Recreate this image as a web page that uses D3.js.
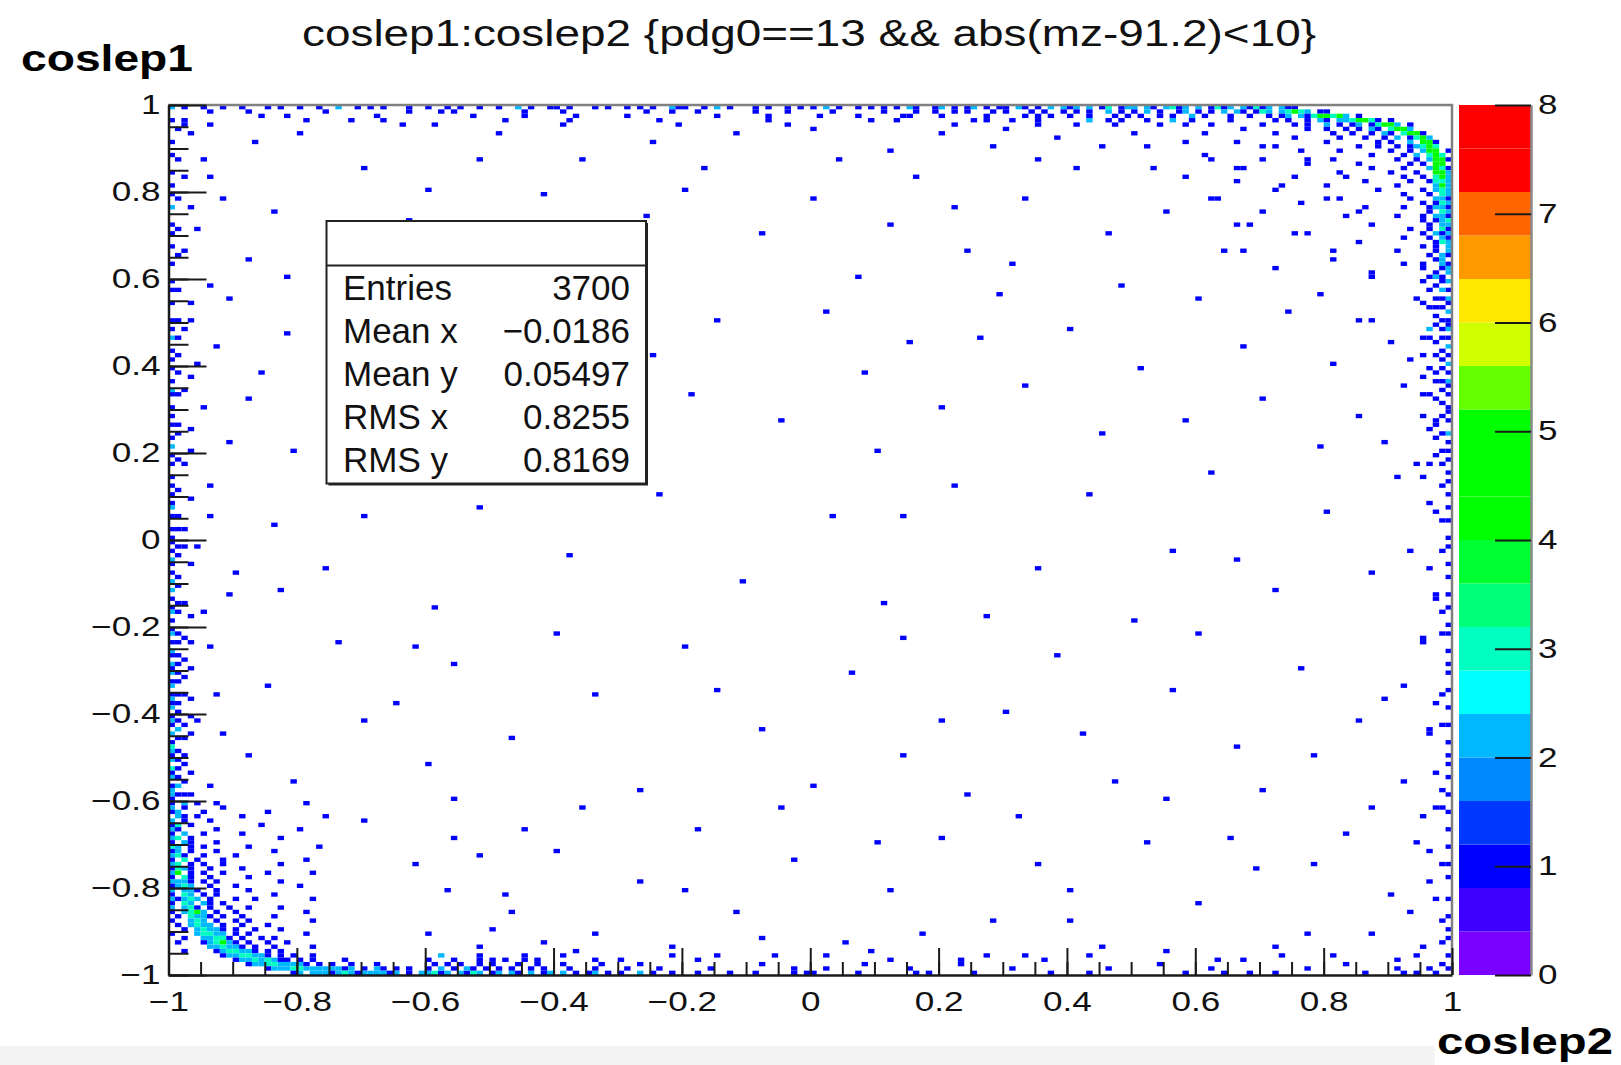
<!DOCTYPE html>
<html>
<head>
<meta charset="utf-8">
<script src="https://cdn.jsdelivr.net/npm/d3@7"></script>
<style>
  html, body { margin: 0; padding: 0; background: #fff; }
  svg { display: block; }
</style>
</head>
<body>
<svg id="chart" width="1621" height="1065"></svg>
<script>
// ---------- labels ----------
const titleText = "coslep1:coslep2 {pdg0==13 && abs(mz-91.2)<10}";
const yTitle = "coslep1";
const xTitle = "coslep2";
const axisTickValues = [-1, -0.8, -0.6, -0.4, -0.2, 0, 0.2, 0.4, 0.6, 0.8, 1];
const axisTickLabels = ["\u22121", "\u22120.8", "\u22120.6", "\u22120.4", "\u22120.2", "0", "0.2", "0.4", "0.6", "0.8", "1"];
const zTickValues = [0, 1, 2, 3, 4, 5, 6, 7, 8];
const zTickLabels = ["0", "1", "2", "3", "4", "5", "6", "7", "8"];
const statNames = ["Entries", "Mean x", "Mean y", "RMS x", "RMS y"];
const statValues = ["3700", "\u22120.0186", "0.05497", "0.8255", "0.8169"];

// colz palette, 20 contour levels from 0 to 8
const palette = ["#7a00ff", "#3d00ff", "#0000ff", "#0038ff", "#0088ff", "#00b8ff", "#00ffff", "#00ffc0",
                 "#00ff78", "#00ff30", "#00ff00", "#00ff00", "#00ff00", "#66ff00", "#d0ff00", "#ffe800",
                 "#ff9a00", "#ff6600", "#ff0000", "#ff0000"];

// ---------- histogram contents (200 x 200 bins on [-1,1] x [-1,1]) ----------
// '.' = empty bin, digit = bin content; spaces are only for readability.

// top-right corner: x 0.60 -> 1.00 (left to right), y 1.00 -> 0.60 (top to bottom)
const cornerTopRight = [
  "2.131 2.213 12.21 1....",
  "1.1.2 .21.1 32.23 432.1 1....",
  ".1... 1..1. .1.12 .2134 5342. 1....",
  "..... 1.... ..1.1 ..1.2 1.223 4531. 1",
  "..1.. ..... 1.... 1.1.. 2.1.1 2.134 52.1.",
  "..... ..1.. ..... ..1.. 1..1. 1.21. 3542.",
  ".1... ..... ..1.. ..... .1..1 ..1.2 1.354 1",
  "..... ..... ..... 1.... ..1.. .1..1 .2.13 52",
  "..... .1... ..... ..... 1.... ...1. 1..2. 441",
  "..... ..... ..1.. ..... ..... 1..1. .1.12 353",
  "..... ..... ..... .1... ..1.. ..... 1..1. 245.1",
  ".1... ..... ..... ..... ..... ..1.. ..1.2 .353.",
  "..... ..... 1.... ..... .1... ..... .1..1 .2541",
  "..... ..... ..... ..1.. ..... 1.... ...1. 1.44.",
  "..... ..1.. ..... ..... ..... ..1.. ..1.. .2531",
  "..... ..... ..... ..... ..1.. ..... 1...1 ..452",
  "..... ..... ..... 1.... ..... ..... ..1.. 1.342",
  "..... .1... ..... ..... ..... .1... ...1. .1332",
  "..... ..... ..... ..... 1.... ..... .1... ..242",
  "..... ..... ..1.. ..... ..... ...1. ..... 1.232",
  "..... ..... ..... ..... ..... ..... ..1.. .1.32",
  "..1.. ..... ..... ..... ..1.. ..... ...1. ..221",
  "..... ..... ..... .1... ..... ..... ..... 1.132",
  "..... ..... ..... ..... ..... .1... ..1.. .1221",
  "..... ..... 1.... ..... ..... ..... ..... .1.32",
  "..... ..... ..... ..... ...1. ..... .1... 1.221",
  "..... ..... ..... ..... ..... ..... ..... 1.123",
  "..... .1... ..... ..... ..... ..1.. ..... .1.22",
  "..... ..... ..... ..... ..... ..... ...1. .1.31",
  "..... ..... ..... ..1.. ..... ..... ..... 1.212",
  "..... ..... ..... ..... ..... ..... ..1.. .1.21",
  "..... ..... ..... ..... ..... 1.... ..... ..132",
  "..... ..... ..... ..... ..... ..... ..... 1.1.2",
  "..... ..1.. ..... ..... ..... ..... .1... ..1.2",
  "..... ..... ..... ..... ..... ..... ..... .1.21",
  "..... ..... ..... ..... .1... ..... ..... ..12.",
  "..... ..... ..... ..... ..... ..... ..1.. 1..21",
  "..... ..... ..... ..... ..... ..... ..... 1..12",
  "..... ..... ..... ..... ..... ..1.. ..... ..1.2",
  "..... ..... ..... ..... ..... ..... ..... .121."
];

// bottom-left corner: x -1.00 -> -0.60 (left to right), y -0.60 -> -1.00 (top to bottom)
const cornerBottomLeft = [
  "1.2.1 ..1.. ..... ..... .1...",
  "2.1.. ...1. ..... ..... .....",
  "12... 1.... ..... 1.... .....",
  ".21.1 ..... .1... ..... ....1",
  "2.1.. .1... ..... ..... .....",
  "13.1. ..... ....1 ..... .....",
  "21... ..1.. ..... ..... 1....",
  "1.2.. 1.... .1... ..... .....",
  "23.1. ..... ..... ..1.. .....",
  "1.21. ..1.. ..... ..... .....",
  "32.1. 1.... ..1.. ..... ...1.",
  "12.1. ..1.. ..... .1... .....",
  "231.. 1.... 1.... ..... .....",
  "1.3.1 ...1. ..... ..... .1...",
  "23.1. 1..1. ..... ..1.. .....",
  "1321. .1... .1... ..... .....",
  "24.1. 1..1. ..... 1.... ..1..",
  "1.31. .1... ..1.. ..... .....",
  "2221. 1.1.. ..... ..1.. .....",
  "1232. .1... 1.... ..... 1....",
  "2.221 ..1.. ..1.. ..... .....",
  "1.32. 1.1.. ..... .1... .....",
  "21232 .1... 1..1. ..... ..1..",
  "1.32. 21.1. ..... ..... .....",
  "2.231 .1..1 ..1.. ..1.. .....",
  "1.234 2.1.. 1.... ..... .1...",
  ".1.32 21.1. .1... .1... .....",
  "1..23 2.1.. 1.1.. ..... ..1..",
  ".1.23 22.1. .1... 1.... .....",
  "..1.2 3221. 1..1. ..1.. .....",
  "1...2 3322. 1.1.. ..... .1...",
  "..1.. 22331 .1..1 .1... .....",
  ".1... 12342 1.1.. 1..1. .....",
  "..... .2232 21.1. .1... ..1..",
  "..1.. ..123 3221. 1.1.. .....",
  "..... ...12 23322 1.1.1 ..1.. .....",
  "..... ..... 12232 3211. 1.1.. ..1..",
  "..... ..... ..122 33222 21.1. 1..1. ..1..",
  "..... ..... ..... 12223 32222 2212. 1.21. 1.1..",
  "..... ..... ..... ....1 2.222 12321 22221 2.1.2"
];

// left edge columns (x = -1.00, -0.99, -0.98, -0.97), y 1.00 -> -0.60
const leftEdge = [
  "1..1....1. .1...1..1. 1..2...1.1 ..1...1... 1.1..1...1 .1.2..1.1. 1..1.21..1 .1.1..1.2. 1.1..1.1.1 .12.1..1.1 1.1.21.1.2 .2.1.12.1. 12.1.21.21 2.12.1212. 121.2.1321 2.312.1221",
  ".....1.... ..1....... .1......1. ....1..... ..1......1 ...1...1.. .1....1... ...1.1.... .1......1. ....1..1.. .1.1....1. 1...1.1... .1.1..1.1. 1.1..1.1.1 .1.2.1..1. 1.1.1.2.1.",
  "...1...... ......1... .......... ...1...... .......... .1........ .....1.... .......... ..1....... .......1.. .1........ ....1..... ..1....1.. .1...1.... ..1..1...1 .1...1..1.",
  "......1... .......... ...1...... .......... .....1.... .......... ..1....... ....1..... .......... 1......... .....1.... .......1.. ...1...... ......1... 1...1..... ...1....1."
];

// top edge rows (y = 0.99, 0.98, ...), x -1.00 -> 0.60
const topEdge = [
  "1.1..1..1. .1...1.1.. 1..1..2..1 .1.1...1.. 1..1.1..1. .1..2.1..1 1.1...1.1. .1.1.1..21 1..1.2.1.. .1.1..1.1. 1.2.1..1.1 .1.1.21..1 2.1.12.1.1 1.21.1.2.2 12.2.13.12 2.21.2312.",
  "......1... ..1....... ....1..... .......1.. ..1....... .....1.... .1........ ....1...1. ..1....... .1....1... ...1...... .1....1..1 ..1.1...1. 1...1.1..1 .1.1..2.1. 1.2.1..12.",
  ".......... ....1..... .......... ..1....... .......1.. .......... ...1...... .......... .....1.... .......... .1.....1.. .....1.... 1......1.. ...1...1.. 1..1...1.1 .1..1.1..2",
  ".......... .......... .1........ .......... .......... ..1....... .......... ......1... .......... ...1...... .......... ...1...... .......1.. .1...1.... ...1..1... ..1...1..1",
  "..1....... .......... .......... ......1... .......... .......... .1........ .......... .......... ......1... .......... .......... ..1....... .....1.... .1.....1.. ....1...1."
];

// right edge columns (x = 0.99, 0.98, ...), y 0.60 -> -1.00
const rightEdge = [
  "2.1.21.2.1 12.1.2.1.2 .1.21.1..1 1.1..2.1.1 .1..1.1..1 ..1..1...1 .1...1..1. ..1..1...1 .1...1..1. 1...1...1. ..1...1..1 .1..1...1. ..1...1... 1...1..1.. ..1...1..1 .1...1..1.",
  "1.2.1.1..1 .1.1..1.1. 1..1.1..1. .1...1...1 ..1....1.. .....1.... ..1....... ......1... .1........ .....1.... ..1....... .......1.. .1........ ....1..... .......1.. ..1.......",
  ".1..1.1.1. 1...1..1.. .1.1...1.. ..1...1... 1......... ...1...... .......... ..1....... .......... .......1.. .......... ...1...... .......... .......... ..1....... ..........",
  "..1...1... .1.1...... 1.....1... ....1..... ..1....... .......... ......1... .......... .......... .......... ...1...... .......... .......... .1........ .......... ..........",
  "1....1.... ...1...1.. ..1....... .1........ .....1.... .......... .......... .......... ..1....... .......... .......... .......... ...1...... .......... .......... .........."
];

// bottom edge rows (y = -1.00, -0.99, ...), x -0.60 -> 1.00
const bottomEdge = [
  "2312.2132. 12.21.2.12 .2.1.12.1. 1..2.1..1. ..1....1.. .1.....1.1 1......1.. ......1.1. .....1.... .......1.. ...1...... ........1. ....1...1. ..1....... ......1... ..1.1..1..",
  "1.2.1.21.1 .1.1..1.1. ..1...1... .1....1... ....1..... .......1.. ..1....... .....1.... .......... .1........ ......1... .......... ..1....... .......1.. .......... .1....1...",
  ".1.1.1..1. 1...1..1.. .1.....1.. ...1...... .......... ..1....... ........1. .......... ...1...... .......... .......... ....1..... .......... .......... ...1...... ........1.",
  "1...1...1. ..1....1.. ......1... .......... ..1....... .......... .......... ..1....... .......... ......1... .......... .......... .......1.. .......... .......... .1........",
  "..1.....1. .....1.... .1........ ........1. .......... ....1..... .......... .......... .......1.. .......... ...1...... .......... .......... ...1...... .......... ....1....."
];

// isolated entries inside the plane: [coslep2, coslep1]
const scatterPoints = [
  // upper region
  [-0.93,0.95],[-0.87,0.91],[-0.79,0.93],[-0.66,0.96],[-0.59,0.95],[-0.45,0.97],[-0.36,0.88],[-0.21,0.95],
  [-0.12,0.93],[0.09,0.96],[0.35,0.97],[0.48,0.96],[-0.93,0.83],[-0.84,0.75],[-0.74,0.68],[-0.63,0.73],
  [-0.52,0.87],[-0.42,0.79],[-0.17,0.86],[0.04,0.88],[0.17,0.83],[0.28,0.9],[0.33,0.78],[0.41,0.85],
  [0.52,0.9],[0.58,0.83],[-0.26,0.74],[-0.08,0.7],[0.12,0.72],[0.24,0.66],[0.46,0.7],[0.55,0.75],
  [-0.55,0.62],[-0.3,0.62],[0.07,0.61],[0.31,0.63],
  [-0.82,0.97],[-0.72,0.96],[-0.55,0.98],[-0.49,0.93],[-0.38,0.96],[-0.29,0.97],[-0.25,0.91],[-0.06,0.97],
  [0.0,0.94],[0.14,0.97],[0.2,0.93],[0.25,0.96],[0.3,0.94],[0.38,0.92],[0.43,0.96],[0.45,0.9],
  [0.5,0.93],[0.56,0.96],[0.59,0.91],[0.53,0.86],[0.36,0.87],[0.12,0.89],
  [-0.7,0.85],[-0.6,0.8],[-0.48,0.72],[-0.2,0.8],[0.0,0.78],[0.22,0.76],
  // top-right halo
  [0.62,0.88],[0.66,0.85],[0.7,0.9],[0.73,0.82],[0.77,0.87],[0.8,0.78],[0.83,0.84],[0.63,0.78],
  [0.68,0.72],[0.75,0.7],[0.82,0.66],[0.86,0.75],[0.88,0.61],[0.72,0.62],[0.64,0.66],[0.79,0.56],
  [0.85,0.5],[0.9,0.45],[0.92,0.35],[0.89,0.22],
  // middle band
  [-0.9,0.55],[-0.81,0.47],[-0.96,0.4],[-0.88,0.32],[-0.72,0.28],[-0.9,0.22],[-0.3,0.55],[-0.15,0.5],
  [0.02,0.52],[0.16,0.45],[0.29,0.56],[0.4,0.48],[0.51,0.39],[0.6,0.55],[0.67,0.44],[0.74,0.52],
  [0.7,0.32],[0.59,0.27],[0.45,0.24],[0.33,0.35],[0.2,0.3],[0.08,0.38],[-0.05,0.27],[-0.19,0.33],
  [-0.36,0.45],[-0.43,0.3],[0.82,0.4],[0.86,0.28],[0.88,0.5],[0.79,0.21],
  [-0.65,0.45],[-0.55,0.35],[-0.25,0.42],[0.1,0.2],[0.26,0.46],[0.48,0.58],
  [-0.93,0.12],[-0.84,0.03],[-0.76,-0.06],[-0.9,-0.13],[-0.66,0.14],[-0.52,0.07],[-0.38,-0.04],[-0.24,0.1],
  [-0.11,-0.1],[0.03,0.05],[0.11,-0.15],[0.22,0.13],[0.35,-0.06],[0.43,0.1],[0.56,-0.03],[0.62,0.16],
  [0.72,-0.12],[0.8,0.06],[0.87,-0.08],[0.91,0.15],[-0.59,-0.16],[-0.45,0.18],[0.27,-0.18],[0.5,-0.19],
  [-0.7,0.05],[-0.3,0.2],[0.15,0.05],[0.66,-0.05],
  // near the left edge
  [-0.95,0.87],[-0.91,0.78],[-0.96,0.71],[-0.88,0.64],[-0.94,0.58],[-0.97,0.5],[-0.92,0.44],[-0.86,0.38],
  [-0.95,0.3],[-0.97,0.2],[-0.93,0.05],[-0.96,-0.02],[-0.89,-0.08],[-0.95,-0.17],[-0.97,-0.3],[-0.92,-0.36],
  [-0.96,-0.42],[-0.88,-0.5],[-0.94,-0.56],[-0.83,-0.12],[-0.82,0.6],[-0.8,0.2],
  // near the right edge
  [0.94,0.55],[0.96,0.48],[0.93,0.41],[0.95,0.33],[0.97,0.26],[0.94,0.18],[0.96,0.08],[0.93,-0.03],
  [0.97,-0.14],[0.95,-0.24],[0.92,-0.33],[0.96,-0.45],[0.97,-0.62],[0.94,-0.7],[0.96,-0.78],[0.93,-0.86],
  [0.89,-0.37],[0.88,-0.62],
  // lower region
  [-0.94,-0.25],[-0.85,-0.33],[-0.74,-0.24],[-0.65,-0.38],[-0.55,-0.29],[-0.47,-0.46],[-0.33,-0.36],[-0.2,-0.25],
  [-0.08,-0.44],[0.06,-0.31],[0.15,-0.5],[0.3,-0.4],[0.38,-0.27],[0.47,-0.55],[0.57,-0.35],[0.66,-0.48],
  [0.76,-0.3],[0.85,-0.42],[0.92,-0.55],[-0.91,-0.45],[-0.8,-0.55],[-0.6,-0.52],[-0.27,-0.58],[0.0,-0.57],
  [0.24,-0.59],[0.7,-0.58],[-0.4,-0.22],[0.14,-0.23],
  [-0.62,-0.25],[-0.15,-0.35],[0.2,-0.42],[0.42,-0.45],[0.6,-0.22],[-0.7,-0.42],[-0.05,-0.62],[0.55,-0.6],
  [0.78,-0.5],
  [-0.7,-0.65],[-0.62,-0.75],[-0.55,-0.68],[-0.48,-0.82],[-0.4,-0.72],[-0.33,-0.9],[-0.27,-0.78],[-0.18,-0.66],
  [-0.12,-0.86],[-0.03,-0.74],[0.05,-0.92],[0.12,-0.8],[0.2,-0.68],[0.28,-0.88],[0.36,-0.75],[0.45,-0.93],
  [0.52,-0.7],[0.6,-0.84],[0.69,-0.76],[0.77,-0.9],[0.84,-0.67],[0.9,-0.81],[0.95,-0.93],[-0.52,-0.94],
  [-0.42,-0.92],[-0.6,-0.9],[-0.36,-0.62],[0.32,-0.64],
  [-0.2,-0.8],[0.4,-0.8],[0.65,-0.68],[0.78,-0.75],[0.1,-0.7],
  // near the bottom edge
  [-0.58,-0.96],[-0.5,-0.89],[-0.45,-0.97],[-0.37,-0.95],[-0.3,-0.97],[-0.22,-0.93],[-0.15,-0.96],[-0.08,-0.91],
  [0.02,-0.96],[0.09,-0.95],[0.18,-0.9],[0.23,-0.97],[0.33,-0.96],[0.4,-0.88],[0.55,-0.95],[0.63,-0.97],
  [0.72,-0.93],[0.81,-0.96],[0.87,-0.9],
  [-0.57,-0.8],[-0.52,-0.73],[-0.47,-0.86],[-0.55,-0.6],[-0.45,-0.66],[-0.5,-0.97]
];

// ---------- fill the histogram ----------
const NB = 200, LO = -1, HI = 1, BW = (HI - LO) / NB;
const counts = new Map();
function fill(ix, iy, n) {
  if (n <= 0 || ix < 0 || iy < 0 || ix >= NB || iy >= NB) return;
  const k = ix * NB + iy;
  counts.set(k, (counts.get(k) || 0) + n);
}
const clean = s => s.replace(/ /g, "");
const val = ch => (ch === "." ? 0 : +ch);

cornerTopRight.forEach((row, r) => [...clean(row)].forEach((ch, c) => fill(160 + c, 199 - r, val(ch))));
cornerBottomLeft.forEach((row, r) => [...clean(row)].forEach((ch, c) => fill(c, 39 - r, val(ch))));
leftEdge.forEach((col, s) => [...clean(col)].forEach((ch, k) => fill(s, 199 - k, val(ch))));
topEdge.forEach((row, s) => [...clean(row)].forEach((ch, k) => fill(k, 199 - s, val(ch))));
rightEdge.forEach((col, s) => [...clean(col)].forEach((ch, k) => fill(199 - s, 159 - k, val(ch))));
bottomEdge.forEach((row, s) => [...clean(row)].forEach((ch, k) => fill(40 + k, s, val(ch))));
scatterPoints.forEach(([px, py]) => fill(Math.floor((px - LO) / BW), Math.floor((py - LO) / BW), 1));

const cells = Array.from(counts, ([k, n]) => ({ ix: Math.floor(k / NB), iy: k % NB, n }));

// ---------- layout ----------
const svg = d3.select("#chart");
const frame = { left: 168.5, right: 1452, top: 105, bottom: 975 };
const bar = { left: 1459, right: 1531 };
const FONT = "'Liberation Sans', Arial, Helvetica, sans-serif";

const x = d3.scaleLinear().domain([LO, HI]).range([frame.left, frame.right]);
const y = d3.scaleLinear().domain([LO, HI]).range([frame.bottom, frame.top]);
const z = d3.scaleLinear().domain([0, 8]).range([frame.bottom, frame.top]);
const colour = d3.scaleQuantize().domain([0, 8]).range(palette);

function stretch(sel, k) {
  sel.each(function () {
    const w = this.getComputedTextLength();
    this.setAttribute("textLength", (w * k).toFixed(1));
    this.setAttribute("lengthAdjust", "spacingAndGlyphs");
  });
}
function fitTo(sel, w) {
  sel.attr("textLength", w).attr("lengthAdjust", "spacingAndGlyphs");
}

svg.append("rect").attr("width", 1621).attr("height", 1065).attr("fill", "#fff");
svg.append("rect").attr("x", 0).attr("y", 1046).attr("width", 1435).attr("height", 19).attr("fill", "#f4f4f4");

// ---------- cells ----------
svg.append("g").selectAll("rect").data(cells).join("rect")
  .attr("x", d => x(LO + d.ix * BW))
  .attr("y", d => y(LO + (d.iy + 1) * BW))
  .attr("width", x(LO + BW) - x(LO))
  .attr("height", y(LO) - y(LO + BW))
  .attr("fill", d => colour(Math.min(d.n, 7.99)));

// ---------- frame ----------
svg.append("path")
  .attr("d", `M${frame.left},${frame.top}H${frame.right}V${frame.bottom}`)
  .attr("fill", "none").attr("stroke", "#808080").attr("stroke-width", 2.5);

// ---------- axes ----------
const minorTicks = d3.range(-20, 21).map(i => i / 20);

function styleAxis(g) {
  g.attr("font-family", FONT).attr("font-size", 27);
  g.selectAll(".tick line").attr("stroke", "#1a1a1a").attr("stroke-width", 2);
  g.selectAll(".domain").attr("stroke", "#1a1a1a").attr("stroke-width", 2.5);
  g.selectAll("text").attr("fill", "#111");
}

const xMinor = svg.append("g").attr("transform", `translate(0,${frame.bottom})`)
  .call(d3.axisBottom(x).tickValues(minorTicks).tickFormat(() => "").tickSize(-13).tickSizeOuter(0));
styleAxis(xMinor); xMinor.select(".domain").remove();
const xMajor = svg.append("g").attr("transform", `translate(0,${frame.bottom})`)
  .call(d3.axisBottom(x).tickValues(axisTickValues).tickFormat((d, i) => axisTickLabels[i])
    .tickSize(-27).tickSizeOuter(0).tickPadding(17));
styleAxis(xMajor);
stretch(xMajor.selectAll("text"), 1.3);

const yMinor = svg.append("g").attr("transform", `translate(${frame.left},0)`)
  .call(d3.axisLeft(y).tickValues(minorTicks).tickFormat(() => "").tickSize(-20).tickSizeOuter(0));
styleAxis(yMinor); yMinor.select(".domain").remove();
const yMajor = svg.append("g").attr("transform", `translate(${frame.left},0)`)
  .call(d3.axisLeft(y).tickValues(axisTickValues).tickFormat((d, i) => axisTickLabels[i])
    .tickSize(-38).tickSizeOuter(0).tickPadding(8));
styleAxis(yMajor);
stretch(yMajor.selectAll("text"), 1.3);

// ---------- colour bar ----------
const levels = palette.map((c, i) => ({ c, lo: i * 0.4, hi: (i + 1) * 0.4 }));
svg.append("g").selectAll("rect").data(levels).join("rect")
  .attr("x", bar.left).attr("width", bar.right - bar.left)
  .attr("y", d => z(d.hi)).attr("height", d => z(d.lo) - z(d.hi))
  .attr("fill", d => d.c);
const zAxis = svg.append("g").attr("transform", `translate(${bar.right},0)`)
  .call(d3.axisRight(z).tickValues(zTickValues).tickFormat((d, i) => zTickLabels[i])
    .tickSize(-36).tickSizeOuter(0).tickPadding(7));
styleAxis(zAxis);
zAxis.select(".domain").attr("stroke", "#8a8a8a");
stretch(zAxis.selectAll("text"), 1.3);

// ---------- statistics box ----------
const box = { left: 326.5, right: 646, top: 221, bottom: 483.5, header: 265.5 };
const stats = svg.append("g");
stats.append("rect").attr("x", box.left + 2).attr("y", box.top + 2)
  .attr("width", box.right - box.left).attr("height", box.bottom - box.top).attr("fill", "#222");
stats.append("rect").attr("x", box.left).attr("y", box.top)
  .attr("width", box.right - box.left).attr("height", box.bottom - box.top)
  .attr("fill", "#fff").attr("stroke", "#222").attr("stroke-width", 2);
stats.append("line").attr("x1", box.left).attr("x2", box.right)
  .attr("y1", box.header).attr("y2", box.header).attr("stroke", "#222").attr("stroke-width", 2);
statNames.forEach((name, i) => {
  const yy = 300 + i * 43;
  stats.append("text").attr("x", 343).attr("y", yy).text(name)
    .attr("font-family", FONT).attr("font-size", 35).attr("fill", "#111");
  stats.append("text").attr("x", 630).attr("y", yy).text(statValues[i])
    .attr("text-anchor", "end").attr("font-family", FONT).attr("font-size", 35).attr("fill", "#111");
});

// ---------- titles ----------
svg.append("text").attr("x", 809).attr("y", 46).attr("text-anchor", "middle")
  .attr("font-family", FONT).attr("font-size", 37).attr("fill", "#111")
  .text(titleText).call(fitTo, 1014);

svg.append("text").attr("x", 21).attr("y", 71)
  .attr("font-family", FONT).attr("font-weight", 700).attr("font-size", 36).attr("fill", "#000")
  .text(yTitle).call(fitTo, 172);

svg.append("text").attr("x", 1437).attr("y", 1054)
  .attr("font-family", FONT).attr("font-weight", 700).attr("font-size", 36).attr("fill", "#000")
  .text(xTitle).call(fitTo, 176);
</script>
</body>
</html>
